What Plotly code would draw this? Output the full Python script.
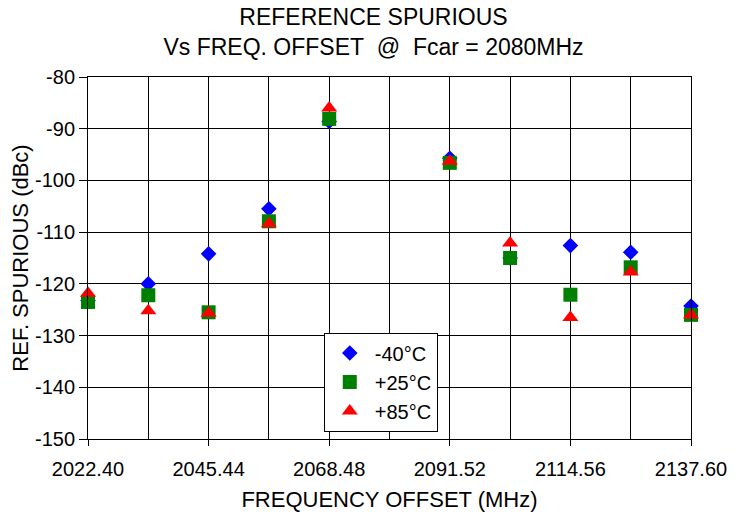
import plotly.graph_objects as go

freq = [2022.40, 2033.92, 2045.44, 2056.96, 2068.48, 2080.00,
        2091.52, 2103.04, 2114.56, 2126.08, 2137.60]
# note: no measured point at 2080.00 (carrier)
freq_pts = [2022.40, 2033.92, 2045.44, 2056.96, 2068.48,
            2091.52, 2103.04, 2114.56, 2126.08, 2137.60]
m40 = [-123.2, -120.0, -114.2, -105.5, -88.6, -95.7, -115.0, -112.6, -113.9, -124.3]
p25 = [-123.5, -122.2, -125.5, -107.9, -88.1, -96.6, -115.0, -122.1, -116.8, -126.0]
p85 = [-121.8, -125.2, -125.7, -108.4, -86.0, -96.3, -112.1, -126.5, -117.7, -126.0]
xticks = [2022.40, 2045.44, 2068.48, 2091.52, 2114.56, 2137.60]
xticklabels = ["2022.40", "2045.44", "2068.48", "2091.52", "2114.56", "2137.60"]
yticks = [-150, -140, -130, -120, -110, -100, -90, -80]
yticklabels = ["-150", "-140", "-130", "-120", "-110", "-100", "-90", "-80"]

FONT = "Liberation Sans, Arial, sans-serif"

fig = go.Figure()
fig.add_trace(go.Scatter(x=freq_pts, y=m40, mode="markers", name="-40°C",
                         marker=dict(symbol="diamond", size=12, color="#0000FF"),
                         cliponaxis=False))
fig.add_trace(go.Scatter(x=freq_pts, y=p25, mode="markers", name="+25°C",
                         marker=dict(symbol="square", size=14, color="#008000"),
                         cliponaxis=False))
fig.add_trace(go.Scatter(x=freq_pts, y=p85, mode="markers", name="+85°C",
                         marker=dict(symbol="triangle-up", size=14, color="#FF0000"),
                         cliponaxis=False))

fig.update_layout(
    width=747, height=512,
    margin=dict(l=88, r=56, t=77, b=73),
    paper_bgcolor="white", plot_bgcolor="white",
    font=dict(family=FONT, color="black"),
    title=dict(text="REFERENCE SPURIOUS<br>Vs FREQ. OFFSET\u00a0 @\u00a0 Fcar = 2080MHz",
               x=0.5, xanchor="center", y=0.951, yanchor="top",
               font=dict(size=23), automargin=False),
    showlegend=True,
    legend=dict(x=0.391, y=0.294, xanchor="left", yanchor="top",
                bgcolor="white", bordercolor="black", borderwidth=1,
                font=dict(size=20), itemwidth=40),
    xaxis=dict(range=[2022.40, 2137.60], tickmode="array", tickvals=xticks,
               ticktext=xticklabels, showgrid=True, gridcolor="black", gridwidth=1,
               minor=dict(tickmode="array", tickvals=freq, showgrid=True,
                          gridcolor="black", gridwidth=1, ticks=""),
               ticks="outside", ticklen=6, tickcolor="black", ticklabelstandoff=6,
               showline=True, linecolor="black", linewidth=1, mirror=True,
               zeroline=False, tickfont=dict(size=20), automargin=False,
               title=dict(text="FREQUENCY OFFSET (MHz)", font=dict(size=22), standoff=34)),
    yaxis=dict(range=[-150, -80], tickmode="array", tickvals=yticks,
               ticktext=yticklabels, showgrid=True,
               gridcolor="black", gridwidth=1,
               ticks="outside", ticklen=8, tickcolor="black",
               showline=True, linecolor="black", linewidth=1, mirror=True,
               zeroline=False, tickfont=dict(size=20), automargin=False,
               title=dict(text="REF. SPURIOUS (dBc)", font=dict(size=22), standoff=0)),
)

fig.write_html("out.html", config={"displayModeBar": False},
               post_script="document.body.style.margin='0px';")
